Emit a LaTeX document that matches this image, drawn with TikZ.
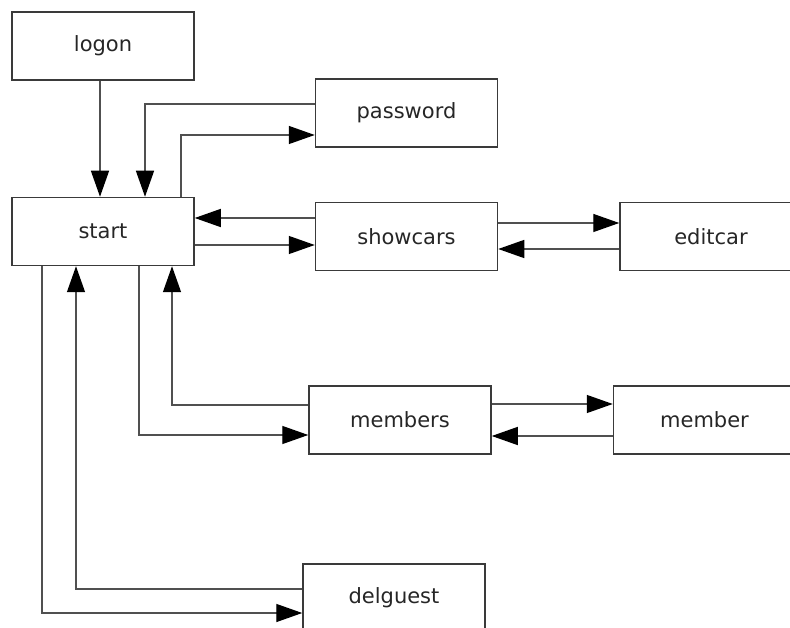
\documentclass[tikz,border=0pt]{standalone}
\usepackage{fontspec}
\setmainfont{DejaVu Sans}
\usepackage{tikz}
\usetikzlibrary{positioning,arrows.meta}
\usepackage{xcolor}
\definecolor{wire}{HTML}{505050}
\definecolor{frame}{HTML}{3A3A3A}

\begin{document}
\begin{tikzpicture}[x=1pt,y=-1pt,>={Triangle[length=26pt,width=18pt,black]},
  node distance=116pt and 121pt,
  page/.style={draw=frame,line width=1.5pt,minimum width=182pt,minimum height=68pt,
    inner sep=0pt,text=black!85,font=\fontsize{21}{25}\selectfont},
  link/.style={->,draw=wire,line width=1.4pt}]
\useasboundingbox (0,0) rectangle (790,628);
\node[page] (logon) at (103,46) {logon};
\node[page] (start) [below=of logon] {start};
\node[page] (password) at (406.5,113) {password};
\node[page] (showcars) at (406.5,236.5) {showcars};
\node[page] (editcar) [right=of showcars] {editcar};
\node[page] (members) at (400,420) {members};
\node[page] (member) [right=of members] {member};
\node[page] (delguest) at (394,598) {delguest};
\draw[link] ([xshift=-3pt]logon.south) -- ([xshift=-3pt]start.north);
\draw[link] ([yshift=9pt]password.west) -| ([xshift=42pt]start.north);
\draw[link] ([xshift=78pt]start.north) |- ([yshift=-22pt]password.west);
\draw[link] ([yshift=18.5pt]showcars.west) -- ([yshift=18.5pt]showcars.west -| start.east);
\draw[link] ([yshift=-8.5pt]showcars.west -| start.east) -- ([yshift=-8.5pt]showcars.west);
\draw[link] ([yshift=13.5pt]showcars.east) -- ([yshift=13.5pt]editcar.west);
\draw[link] ([yshift=-12.5pt]editcar.west) -- ([yshift=-12.5pt]showcars.east);
\draw[link] ([yshift=15pt]members.west) -| ([xshift=69pt]start.south);
\draw[link] ([xshift=36pt]start.south) |- ([yshift=-15pt]members.west);
\draw[link] ([yshift=16pt]members.east) -- ([yshift=16pt]member.west);
\draw[link] ([yshift=-16pt]member.west) -- ([yshift=-16pt]members.east);
\draw[link] ([yshift=9pt]delguest.west) -| ([xshift=-27pt]start.south);
\draw[link] ([xshift=-61pt]start.south) |- ([yshift=-15pt]delguest.west);
\end{tikzpicture}
\end{document}
